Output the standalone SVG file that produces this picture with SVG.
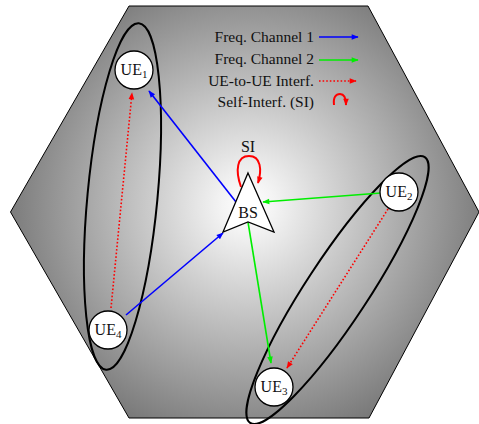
<svg xmlns="http://www.w3.org/2000/svg" width="479" height="424" viewBox="0 0 479 424">
<defs>
<radialGradient id="bg" gradientUnits="userSpaceOnUse" cx="248" cy="205" r="255">
<stop offset="0" stop-color="#ffffff"/>
<stop offset="0.1" stop-color="#f4f4f4"/>
<stop offset="1" stop-color="#727272"/>
</radialGradient>
<marker id="ab" viewBox="0 0 10 10" refX="9" refY="5" markerWidth="8" markerHeight="7" markerUnits="userSpaceOnUse" orient="auto"><path d="M0,1 L10,5 L0,9 Z" fill="#0000ff"/></marker>
<marker id="ag" viewBox="0 0 10 10" refX="9" refY="5" markerWidth="8" markerHeight="7" markerUnits="userSpaceOnUse" orient="auto"><path d="M0,1 L10,5 L0,9 Z" fill="#00ee00"/></marker>
<marker id="ar" viewBox="0 0 10 10" refX="9" refY="5" markerWidth="8" markerHeight="7" markerUnits="userSpaceOnUse" orient="auto"><path d="M0,1 L10,5 L0,9 Z" fill="#ff0000"/></marker>
</defs>
<style>
text{font-family:"Liberation Serif","Times New Roman",serif;fill:#111}
.lbl{font-size:15.5px}
.ue{font-size:16px;text-anchor:middle}
.node{fill:#fff;stroke:#000;stroke-width:1.3}
.grp{fill:none;stroke:#000;stroke-width:2}
.blue{stroke:#0000ff;stroke-width:1.6;fill:none;marker-end:url(#ab)}
.green{stroke:#00ee00;stroke-width:1.6;fill:none;marker-end:url(#ag)}
.red{stroke:#ff0000;stroke-width:1.6;fill:none;stroke-dasharray:1.6 2;marker-end:url(#ar)}
.si{stroke:#ff0000;stroke-width:2;fill:none;marker-end:url(#ar)}
</style>
<polygon id="cell" points="129,6 368,6 479,212 369,418 129,418 10.5,212" fill="url(#bg)" stroke="#000" stroke-width="1"/>
<g id="clusters">
<ellipse class="grp" cx="122.5" cy="196.5" rx="35" ry="174" transform="rotate(5.4 122.5 196.5)"/>
<ellipse class="grp" cx="337.5" cy="290" rx="31" ry="159" transform="rotate(33.3 337.5 290)"/>
</g>
<g id="connectors">
<line class="blue" x1="236" y1="202" x2="149" y2="91"/>
<line class="blue" x1="126" y1="315" x2="223" y2="233"/>
<line class="green" x1="381" y1="193" x2="263" y2="202"/>
<line class="green" x1="248" y1="222" x2="271" y2="363"/>
<line class="red" x1="111" y1="308" x2="132" y2="93"/>
<line class="red" x1="388" y1="209" x2="287" y2="368"/>
<path class="si" d="M241,187 C235,170 237,156 249,156 C261,156 262,170 258,183"/>
</g>
<g id="BS">
<polygon class="node" points="248,173 274,232 248,222 223,232"/>
<text class="ue" x="248" y="218">BS</text>
<text class="ue" x="248" y="152">SI</text>
</g>
<g id="UE1"><circle class="node" cx="134" cy="70" r="19"/><text class="ue" x="134" y="75">UE<tspan font-size="11" dy="3">1</tspan></text></g>
<g id="UE2"><circle class="node" cx="399" cy="192" r="19"/><text class="ue" x="399" y="197">UE<tspan font-size="11" dy="3">2</tspan></text></g>
<g id="UE3"><circle class="node" cx="274" cy="387" r="19"/><text class="ue" x="274" y="392">UE<tspan font-size="11" dy="3">3</tspan></text></g>
<g id="UE4"><circle class="node" cx="108" cy="330" r="19"/><text class="ue" x="108" y="335">UE<tspan font-size="11" dy="3">4</tspan></text></g>
<g id="legend">
<text class="lbl" x="314" y="42" text-anchor="end">Freq. Channel 1</text>
<text class="lbl" x="314" y="64" text-anchor="end">Freq. Channel 2</text>
<text class="lbl" x="314" y="86" text-anchor="end">UE-to-UE Interf.</text>
<text class="lbl" x="314" y="107" text-anchor="end">Self-Interf. (SI)</text>
<line class="blue" x1="319" y1="37" x2="358" y2="37"/>
<line class="green" x1="319" y1="60" x2="358" y2="60"/>
<line class="red" x1="319" y1="81" x2="356" y2="81"/>
<path class="si" d="M334,105 C333,97 336,94 340,94 C344,94 346,98 346,105"/>
</g>
</svg>
